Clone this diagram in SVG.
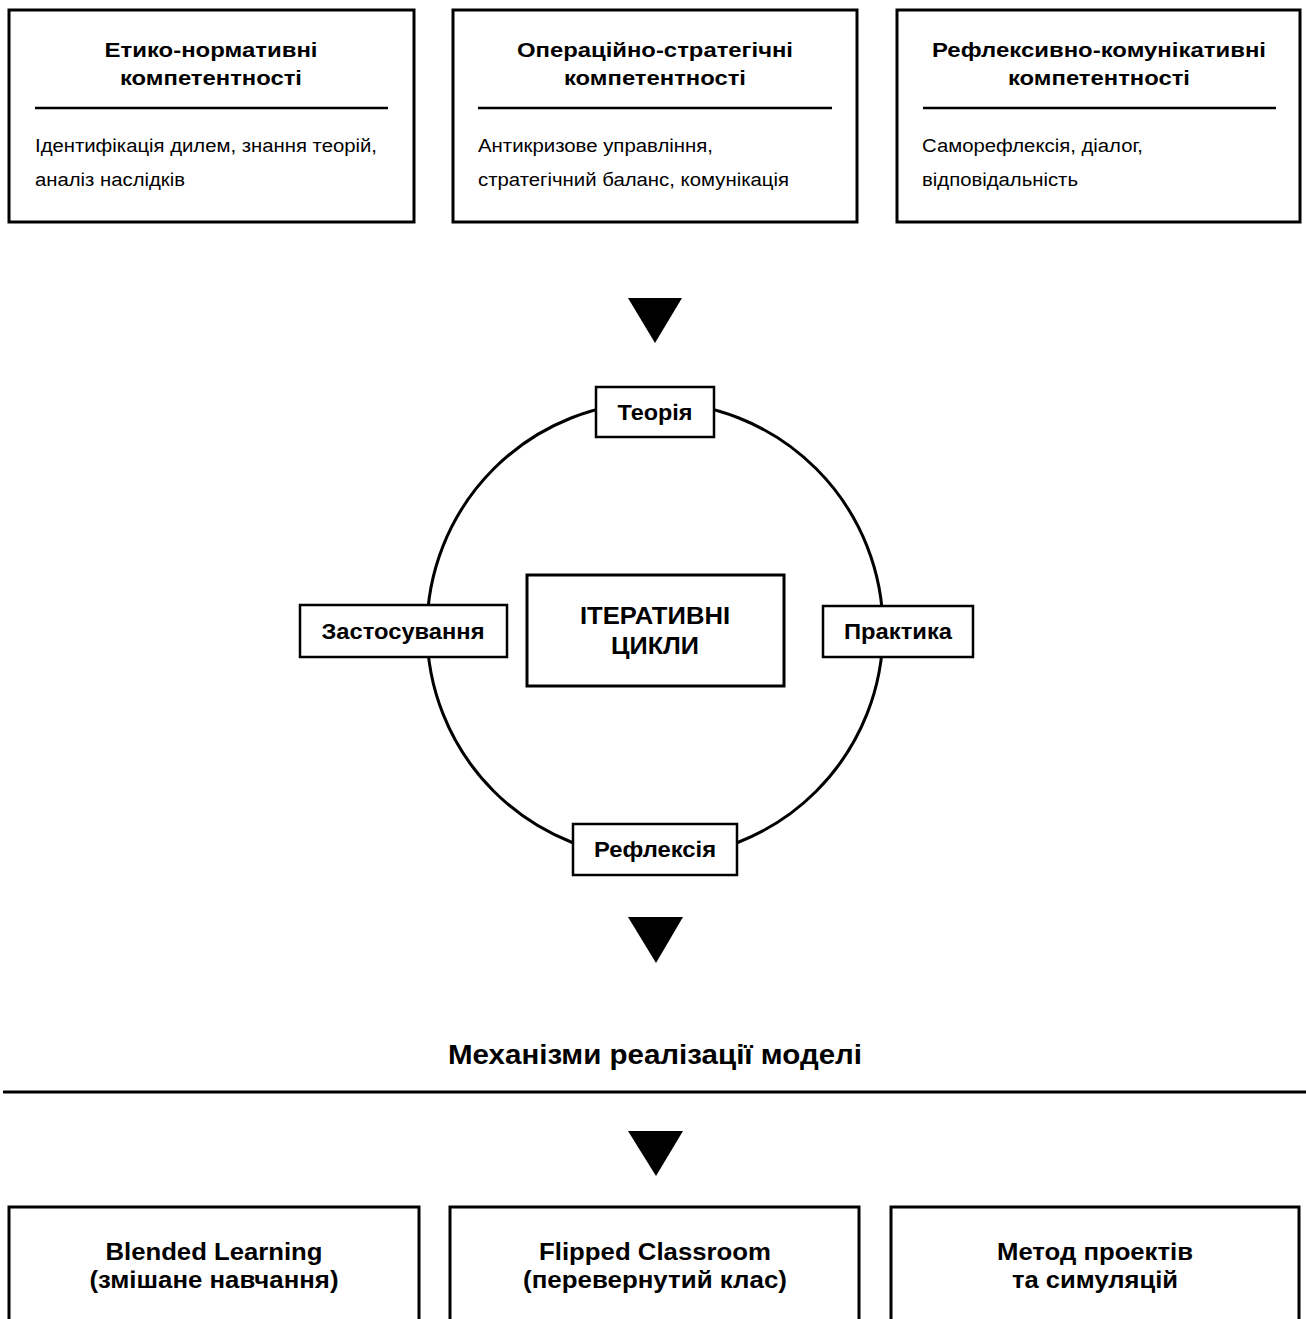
<svg xmlns="http://www.w3.org/2000/svg" width="1306" height="1319" viewBox="0 0 1306 1319">
<style>
.box{fill:#fff;stroke:#000;stroke-width:3}
.lbl{fill:#fff;stroke:#000;stroke-width:2.5}
.sep{stroke:#000;stroke-width:2.5}
.t{font-family:"Liberation Sans",Arial,sans-serif;fill:#000}
.h{font-weight:bold;font-size:21px;text-anchor:middle}
.b{font-size:18px}
.l{font-weight:bold;font-size:22px;text-anchor:middle}
.c{font-weight:bold;font-size:24px;text-anchor:middle}
.m{font-weight:bold;font-size:23px;text-anchor:middle}
.arr{fill:#000}
</style>
<rect width="1306" height="1319" fill="#fff"/>
<g id="connectors">
<circle cx="655" cy="630" r="228" fill="none" stroke="#000" stroke-width="3"/>
<polygon class="arr" points="628,298 682,298 655,343"/>
<polygon class="arr" points="628,917 683,917 656,963"/>
<polygon class="arr" points="628,1131 683,1131 656,1176"/>
<line x1="3" y1="1092" x2="1306" y2="1092" stroke="#000" stroke-width="3"/>
</g>
<g id="node-ethics">
<rect class="box" x="9" y="10" width="405" height="212"/>
<text class="t h" x="211" y="57" textLength="213" lengthAdjust="spacingAndGlyphs">Етико-нормативні</text>
<text class="t h" x="211" y="85" textLength="182" lengthAdjust="spacingAndGlyphs">компетентності</text>
<line class="sep" x1="35" y1="108" x2="388" y2="108"/>
<text class="t b" x="35" y="152" textLength="342" lengthAdjust="spacingAndGlyphs">Ідентифікація дилем, знання теорій,</text>
<text class="t b" x="35" y="186" textLength="150" lengthAdjust="spacingAndGlyphs">аналіз наслідків</text>
</g>
<g id="node-operational">
<rect class="box" x="453" y="10" width="404" height="212"/>
<text class="t h" x="655" y="57" textLength="276" lengthAdjust="spacingAndGlyphs">Операційно-стратегічні</text>
<text class="t h" x="655" y="85" textLength="182" lengthAdjust="spacingAndGlyphs">компетентності</text>
<line class="sep" x1="478" y1="108" x2="832" y2="108"/>
<text class="t b" x="478" y="152" textLength="235" lengthAdjust="spacingAndGlyphs">Антикризове управління,</text>
<text class="t b" x="478" y="186" textLength="311" lengthAdjust="spacingAndGlyphs">стратегічний баланс, комунікація</text>
</g>
<g id="node-reflexive">
<rect class="box" x="897" y="10" width="403" height="212"/>
<text class="t h" x="1099" y="57" textLength="334" lengthAdjust="spacingAndGlyphs">Рефлексивно-комунікативні</text>
<text class="t h" x="1099" y="85" textLength="182" lengthAdjust="spacingAndGlyphs">компетентності</text>
<line class="sep" x1="923" y1="108" x2="1276" y2="108"/>
<text class="t b" x="922" y="152" textLength="221" lengthAdjust="spacingAndGlyphs">Саморефлексія, діалог,</text>
<text class="t b" x="922" y="186" textLength="156" lengthAdjust="spacingAndGlyphs">відповідальність</text>
</g>
<g id="node-theory">
<rect class="lbl" x="596" y="387" width="118" height="50"/>
<text class="t l" x="655" y="420" textLength="75" lengthAdjust="spacingAndGlyphs">Теорія</text>
</g>
<g id="node-application">
<rect class="lbl" x="300" y="605" width="207" height="52"/>
<text class="t l" x="403" y="639" textLength="163" lengthAdjust="spacingAndGlyphs">Застосування</text>
</g>
<g id="node-practice">
<rect class="lbl" x="823" y="606" width="150" height="51"/>
<text class="t l" x="898" y="639" textLength="108" lengthAdjust="spacingAndGlyphs">Практика</text>
</g>
<g id="node-reflection">
<rect class="lbl" x="573" y="824" width="164" height="51"/>
<text class="t l" x="655" y="857" textLength="122" lengthAdjust="spacingAndGlyphs">Рефлексія</text>
</g>
<g id="node-center">
<rect class="box" x="527" y="575" width="257" height="111"/>
<text class="t c" x="655" y="624" textLength="150" lengthAdjust="spacingAndGlyphs">ІТЕРАТИВНІ</text>
<text class="t c" x="655" y="654" textLength="88" lengthAdjust="spacingAndGlyphs">ЦИКЛИ</text>
</g>
<g id="node-title">
<text class="t" x="655" y="1064" textLength="414" lengthAdjust="spacingAndGlyphs" style="font-weight:bold;font-size:27px;text-anchor:middle">Механізми реалізації моделі</text>
</g>
<g id="node-blended">
<rect class="box" x="9" y="1207" width="410" height="130"/>
<text class="t m" x="214" y="1260" textLength="217" lengthAdjust="spacingAndGlyphs">Blended Learning</text>
<text class="t m" x="214" y="1288" textLength="249" lengthAdjust="spacingAndGlyphs">(змішане навчання)</text>
</g>
<g id="node-flipped">
<rect class="box" x="450" y="1207" width="409" height="130"/>
<text class="t m" x="655" y="1260" textLength="232" lengthAdjust="spacingAndGlyphs">Flipped Classroom</text>
<text class="t m" x="655" y="1288" textLength="264" lengthAdjust="spacingAndGlyphs">(перевернутий клас)</text>
</g>
<g id="node-projects">
<rect class="box" x="891" y="1207" width="408" height="130"/>
<text class="t m" x="1095" y="1260" textLength="196" lengthAdjust="spacingAndGlyphs">Метод проектів</text>
<text class="t m" x="1095" y="1288" textLength="166" lengthAdjust="spacingAndGlyphs">та симуляцій</text>
</g>
</svg>
